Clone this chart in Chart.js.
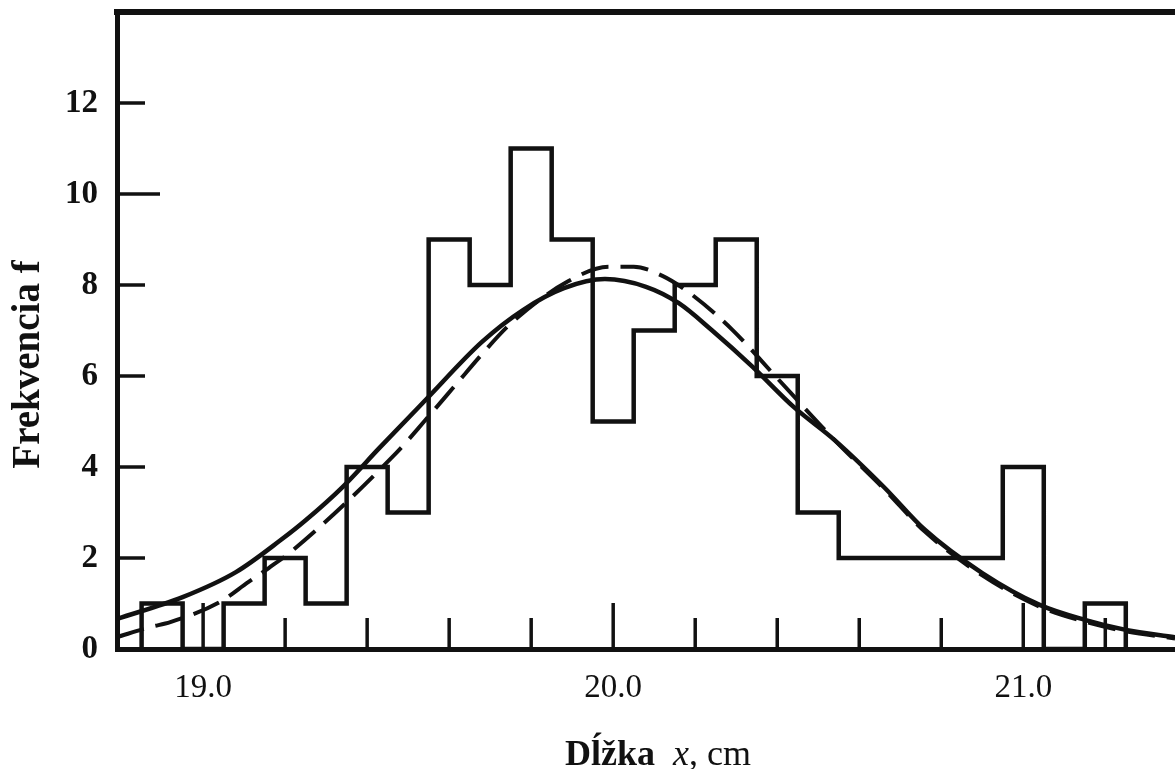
<!DOCTYPE html>
<html>
<head>
<meta charset="utf-8">
<title>Frekvencia dĺžok</title>
<script src="https://cdn.jsdelivr.net/npm/chart.js@4.4.1/dist/chart.umd.min.js"></script>
<style>
    html, body { margin: 0; padding: 0; background: #fff; }
    #wrap { width: 1175px; height: 769px; position: relative; }
</style>
</head>
<body>
<div id="wrap"><canvas id="lengthChart"></canvas></div>
<script>
// Histogram: class marks (cm) and frequencies, class width 0.1 cm
const binCenters = [18.9, 19.0, 19.1, 19.2, 19.3, 19.4, 19.5, 19.6, 19.7, 19.8, 19.9, 20.0,
                    20.1, 20.2, 20.3, 20.4, 20.5, 20.6, 20.7, 20.8, 20.9, 21.0, 21.1, 21.2];
const counts = [1, 0, 1, 2, 1, 4, 3, 9, 8, 11, 9, 5, 7, 8, 9, 6, 3, 2, 2, 2, 2, 4, 0, 1];
const binWidth = 0.1;

// Fitted curve (solid)
const solidX = [18.79, 18.95, 19.08, 19.19, 19.25, 19.34, 19.43, 19.54, 19.68, 19.78, 19.88, 19.98,
                20.08, 20.16, 20.24, 20.34, 20.44, 20.54, 20.66, 20.76, 20.90, 21.04, 21.15, 21.25, 21.37];
const solidF = [0.66, 1.14, 1.69, 2.40, 2.83, 3.56, 4.42, 5.45, 6.75, 7.45, 7.93, 8.13,
                7.96, 7.60, 7.01, 6.20, 5.32, 4.59, 3.56, 2.62, 1.67, 0.97, 0.64, 0.42, 0.26];

// Second curve (dashed)
const dashX = [18.79, 18.87, 18.92, 19.04, 19.11, 19.16, 19.22, 19.47, 19.54, 19.62, 19.68, 19.75,
               19.89, 19.99, 20.05, 20.12, 20.19, 20.29, 20.39, 20.54, 20.66, 20.76, 20.90, 21.04,
               21.15, 21.25, 21.37];
const dashF = [0.26, 0.48, 0.59, 1.03, 1.47, 1.78, 2.18, 4.30, 5.01, 5.85, 6.48, 7.15,
               8.08, 8.40, 8.40, 8.20, 7.80, 7.02, 6.05, 4.59, 3.52, 2.58, 1.62, 0.93,
               0.60, 0.39, 0.23];

// Axis ticks
const xTickValues = [19.0, 19.2, 19.4, 19.6, 19.8, 20.0, 20.2, 20.4, 20.6, 20.8, 21.0, 21.2];
const yTickValues = [0, 2, 4, 6, 8, 10, 12];

const INK = '#111';
const SERIF = "'Liberation Serif', 'Times New Roman', serif";

const isWhole = v => Math.abs(v - Math.round(v)) < 1e-6;

// outline of the histogram as a step line: left edges + closing edge
function histogramOutline() {
    const pts = [{ x: binCenters[0] - binWidth / 2, y: 0 }];
    binCenters.forEach((c, i) => pts.push({ x: c - binWidth / 2, y: counts[i] }));
    pts.push({ x: binCenters[binCenters.length - 1] + binWidth / 2, y: 0 });
    return pts;
}

const toPoints = (xs, ys) => xs.map((x, i) => ({ x: x, y: ys[i] }));

// top frame, inward tick marks and both axis titles
const axisDecor = {
    id: 'axisDecor',
    afterDraw(chart) {
        const { ctx, chartArea: area } = chart;
        const x = chart.scales.x;
        const y = chart.scales.y;
        ctx.save();
        ctx.strokeStyle = INK;
        ctx.fillStyle = INK;
        ctx.lineCap = 'butt';

        ctx.lineWidth = 6;
        ctx.beginPath();
        ctx.moveTo(area.left - 3, area.top);
        ctx.lineTo(chart.width, area.top);
        ctx.stroke();

        ctx.lineWidth = 3.5;
        x.ticks.forEach(t => {
            const px = x.getPixelForValue(t.value);
            const len = isWhole(t.value) ? 46 : 31;
            ctx.beginPath();
            ctx.moveTo(px, area.bottom);
            ctx.lineTo(px, area.bottom - len);
            ctx.stroke();
        });
        y.ticks.forEach(t => {
            if (t.value === 0) return;
            const py = y.getPixelForValue(t.value);
            const len = t.value === 10 ? 43 : 28;
            ctx.beginPath();
            ctx.moveTo(area.left, py);
            ctx.lineTo(area.left + len, py);
            ctx.stroke();
        });

        // y title
        ctx.save();
        ctx.translate(area.left - 88, (area.top + area.bottom) / 2 + 34);
        ctx.rotate(-Math.PI / 2);
        ctx.font = `bold 39px ${SERIF}`;
        ctx.textAlign = 'center';
        ctx.textBaseline = 'middle';
        ctx.fillText('Frekvencia f', 0, 0);
        ctx.restore();

        // x title in three styles: "Dĺžka" bold, "x" italic, ", cm" regular
        const parts = [
            { text: 'Dĺžka  ', font: `bold 36px ${SERIF}` },
            { text: 'x', font: `italic 36px ${SERIF}` },
            { text: ', cm', font: `36px ${SERIF}` }
        ];
        let total = 0;
        parts.forEach(p => { ctx.font = p.font; p.w = ctx.measureText(p.text).width; total += p.w; });
        let cx = (area.left + area.right) / 2 + 12 - total / 2;
        ctx.textAlign = 'left';
        ctx.textBaseline = 'alphabetic';
        parts.forEach(p => {
            ctx.font = p.font;
            ctx.fillText(p.text, cx, 765);
            cx += p.w;
        });
        ctx.restore();
    }
};

new Chart(document.getElementById('lengthChart'), {
    type: 'line',
    data: {
        datasets: [
            {
                label: 'Histogram',
                data: histogramOutline(),
                stepped: 'before',
                borderColor: INK,
                borderWidth: 4.5,
                borderJoinStyle: 'miter',
                pointRadius: 0,
                fill: false
            },
            {
                label: 'Krivka',
                data: toPoints(solidX, solidF),
                borderColor: INK,
                borderWidth: 4.5,
                cubicInterpolationMode: 'monotone',
                pointRadius: 0,
                fill: false
            },
            {
                label: 'Krivka 2',
                data: toPoints(dashX, dashF),
                borderColor: INK,
                borderWidth: 4,
                borderDash: [28, 12],
                cubicInterpolationMode: 'monotone',
                pointRadius: 0,
                fill: false
            }
        ]
    },
    options: {
        responsive: true,
        maintainAspectRatio: false,
        animation: false,
        layout: { padding: { top: 12, right: 0, bottom: 0, left: 0 } },
        plugins: {
            legend: { display: false },
            tooltip: { enabled: false }
        },
        scales: {
            x: {
                type: 'linear',
                min: 18.79,
                max: 21.37,
                grid: { display: false, drawTicks: false },
                border: { display: true, color: INK, width: 5 },
                afterBuildTicks: scale => {
                    scale.ticks = xTickValues.map(v => ({ value: v }));
                },
                afterFit: scale => {
                    scale.height = 120;
                    scale.paddingLeft = 0;
                    scale.paddingRight = 0;
                },
                ticks: {
                    autoSkip: false,
                    maxRotation: 0,
                    padding: 20,
                    color: INK,
                    font: { family: SERIF, size: 33 },
                    callback: v => isWhole(v) ? v.toFixed(1) : ''
                }
            },
            y: {
                min: 0,
                max: 14,
                grid: { display: false, drawTicks: false },
                border: { display: true, color: INK, width: 5 },
                afterBuildTicks: scale => {
                    scale.ticks = yTickValues.map(v => ({ value: v }));
                },
                afterFit: scale => {
                    scale.width = 117;
                    scale.paddingTop = 0;
                    scale.paddingBottom = 0;
                },
                ticks: {
                    padding: 19,
                    color: INK,
                    font: { family: SERIF, size: 33, weight: 'bold' }
                }
            }
        }
    },
    plugins: [axisDecor]
});
</script>
</body>
</html>
